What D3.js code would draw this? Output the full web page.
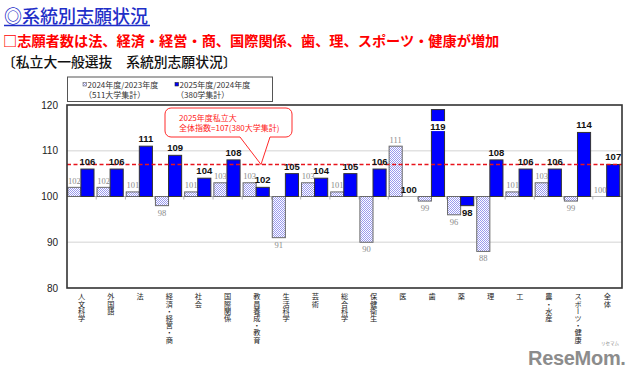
<!DOCTYPE html>
<html><head><meta charset="utf-8">
<script src="https://cdn.jsdelivr.net/npm/d3@7"></script>
<style>
html,body{margin:0;padding:0;background:#fff;}
svg{display:block;}
</style></head>
<body>
<svg id="chart" width="640" height="380"></svg>
<script>
const categories = ["人文科学","外国語","法","経済・経営・商","社会","国際関係","教員養成・教育","生活科学","芸術","総合科学","保健衛生","医","歯","薬","理","工","農・水産","スポーツ・健康","全体"];
const series2024 = [102,102,101,98,101,103,103,91,103,101,90,111,99,96,88,101,103,99,100];
const series2025 = [106,106,111,109,104,108,102,105,104,105,106,100,119,98,108,106,106,114,107];
const yTicks = [80,90,100,110,120];
const overallIndex = 107;
const baseValue = 100;
const seriesNames = ["2024年度/2023年度","2025年度/2024年度"];
const seriesNotes = ["（511大学集計）","（380学集計）"];
const titleText = "◎系統別志願状況";
const subtitleText = "□志願者数は法、経済・経営・商、国際関係、歯、理、スポーツ・健康が増加";
const captionText = "〔私立大一般選抜　系統別志願状況〕";
const calloutLines = ["2025年度私立大","全体指数=107(380大学集計)"];

const JP = "'Noto Sans CJK JP','Noto Sans',sans-serif";
const svg = d3.select("#chart");

// pattern for 2024 bars
const defs = svg.append("defs");
const pat = defs.append("pattern").attr("id","dots").attr("patternUnits","userSpaceOnUse")
  .attr("width",2).attr("height",2);
pat.append("rect").attr("width",2).attr("height",2).attr("fill","#ffffff");
pat.append("rect").attr("x",0).attr("y",0).attr("width",1).attr("height",1).attr("fill","#9a9aee");
pat.append("rect").attr("x",1).attr("y",1).attr("width",1).attr("height",1).attr("fill","#9a9aee");

// titles
svg.append("text").attr("x",4).attr("y",23).attr("font-family",JP).attr("font-size",18)
  .attr("font-weight",500).attr("fill","#1f2fc8").text(titleText);
svg.append("line").attr("x1",4).attr("x2",150).attr("y1",25.5).attr("y2",25.5)
  .attr("stroke","#1f2fc8").attr("stroke-width",1.3);
svg.append("text").attr("x",3).attr("y",46).attr("font-family",JP).attr("font-size",14.2)
  .attr("font-weight",700).attr("fill","#ff0000").text(subtitleText);
svg.append("text").attr("x",2).attr("y",67).attr("font-family",JP).attr("font-size",13.8)
  .attr("font-weight",500).attr("fill","#111").text(captionText);

// legend
const lg = svg.append("g");
lg.append("rect").attr("x",67.5).attr("y",77).attr("width",205).attr("height",24.5)
  .attr("fill","#fff").attr("stroke","#555").attr("stroke-width",1);
const legX = [83, 175];
[0,1].forEach(i=>{
  lg.append("rect").attr("x",legX[i]).attr("y",82.5).attr("width",3.5).attr("height",3.5)
    .attr("fill", i===0 ? "url(#dots)" : "#0000ff").attr("stroke", i===0?"#666":"#222").attr("stroke-width",0.6);
  lg.append("text").attr("x",legX[i]+4.5).attr("y",88).attr("font-family",JP).attr("font-size",8)
    .attr("fill","#333").text(seriesNames[i]);
  lg.append("text").attr("x",legX[i]+1).attr("y",97.5).attr("font-family",JP).attr("font-size",8)
    .attr("fill","#333").text(seriesNotes[i]);
});

// scales
const plot = {left:67, right:622, top:105, bottom:288};
const x = d3.scaleBand().domain(categories).range([plot.left, plot.right]).padding(0);
const xs = d3.scaleBand().domain(["2024","2025"]).range([0.8, x.bandwidth()-2.2]).padding(0);
const y = d3.scaleLinear().domain([80,120]).range([plot.bottom, plot.top]);

// gridlines
svg.append("g").selectAll("line").data(yTicks.filter(t=>t!==80 && t!==120 && t!==baseValue)).join("line")
  .attr("x1",plot.left).attr("x2",plot.right).attr("y1",d=>y(d)).attr("y2",d=>y(d))
  .attr("stroke","#e2e2e2").attr("stroke-width",1.5);

// baseline and ticks
svg.append("line").attr("x1",plot.left).attr("x2",plot.right).attr("y1",y(baseValue)).attr("y2",y(baseValue))
  .attr("stroke","#b5b5b5").attr("stroke-width",1.2);
svg.append("g").selectAll("line").data(categories.slice(1)).join("line")
  .attr("x1",d=>x(d)).attr("x2",d=>x(d)).attr("y1",y(baseValue)).attr("y2",y(baseValue)+3)
  .attr("stroke","#b5b5b5").attr("stroke-width",1);

// y axis labels
const yAxis = d3.axisLeft(y).tickValues(yTicks).tickSize(0).tickPadding(9);
const ya = svg.append("g").attr("transform",`translate(${plot.left},0)`).call(yAxis);
ya.select(".domain").remove();
ya.selectAll("text").attr("font-family","'Liberation Sans',Arial,sans-serif").attr("font-size",10).attr("fill","#222");

// bars 2024
svg.append("g").selectAll("rect").data(categories).join("rect")
  .attr("x",(d)=>x(d)+xs("2024"))
  .attr("width",xs.bandwidth())
  .attr("y",(d,i)=>y(Math.max(series2024[i],baseValue)))
  .attr("height",(d,i)=>Math.abs(y(series2024[i])-y(baseValue)))
  .attr("fill","url(#dots)").attr("stroke","#6a6a6a").attr("stroke-width",1);
// bars 2025
svg.append("g").selectAll("rect").data(categories).join("rect")
  .attr("x",(d)=>x(d)+xs("2025"))
  .attr("width",xs.bandwidth())
  .attr("y",(d,i)=>y(Math.max(series2025[i],baseValue)))
  .attr("height",(d,i)=>Math.abs(y(series2025[i])-y(baseValue)))
  .attr("fill","#0000ff").attr("stroke","#333").attr("stroke-width",1);

// reference dashed line
svg.append("line").attr("x1",plot.left).attr("x2",plot.right).attr("y1",y(overallIndex)).attr("y2",y(overallIndex))
  .attr("stroke","#e8141c").attr("stroke-width",1.3).attr("stroke-dasharray","4,2.5");

// labels 2024
svg.append("g").selectAll("text").data(categories).join("text")
  .attr("x",d=>x(d)+xs("2024")+xs.bandwidth()/2)
  .attr("y",(d,i)=> series2024[i]>=baseValue ? y(series2024[i])-3.5 : y(series2024[i])+10)
  .attr("text-anchor","middle").attr("font-family","'Liberation Serif','DejaVu Serif',serif")
  .attr("font-size",8.5).attr("fill","#8a8a8a").text((d,i)=>series2024[i]);

// labels 2025
const lab = svg.append("g");
categories.forEach((c,i)=>{
  const v = series2025[i];
  const cx = x(c)+xs("2025")+xs.bandwidth()/2;
  let ty = v>=baseValue ? y(v)-4 : y(v)+10.5;
  let inside = false;
  if (v>=baseValue && ty-8 < plot.top) { ty = y(v)+20; inside = true; }
  if (inside) {
    lab.append("rect").attr("x",cx-8).attr("y",ty-8.5).attr("width",16).attr("height",10).attr("fill","#fff");
  }
  lab.append("text").attr("x",cx).attr("y",ty).attr("text-anchor","middle")
    .attr("font-family","'Liberation Sans',Arial,sans-serif").attr("font-weight",700)
    .attr("font-size",9.5).attr("fill","#111").text(v);
});

// plot border
svg.append("rect").attr("x",plot.left).attr("y",plot.top).attr("width",plot.right-plot.left)
  .attr("height",plot.bottom-plot.top).attr("fill","none").attr("stroke","#333").attr("stroke-width",1.6);

// callout
const tipX = 261, tipY = y(overallIndex);
const cb = {x:165,y:108,w:127,h:29,r:6};
const path = d3.path();
path.moveTo(cb.x+cb.r, cb.y);
path.lineTo(cb.x+cb.w-cb.r, cb.y);
path.arcTo(cb.x+cb.w, cb.y, cb.x+cb.w, cb.y+cb.r, cb.r);
path.lineTo(cb.x+cb.w, cb.y+cb.h-cb.r);
path.arcTo(cb.x+cb.w, cb.y+cb.h, cb.x+cb.w-cb.r, cb.y+cb.h, cb.r);
path.lineTo(270, cb.y+cb.h);
path.lineTo(tipX, tipY);
path.lineTo(240, cb.y+cb.h);
path.lineTo(cb.x+cb.r, cb.y+cb.h);
path.arcTo(cb.x, cb.y+cb.h, cb.x, cb.y+cb.h-cb.r, cb.r);
path.lineTo(cb.x, cb.y+cb.r);
path.arcTo(cb.x, cb.y, cb.x+cb.r, cb.y, cb.r);
path.closePath();
svg.append("path").attr("d",path.toString()).attr("fill","#fff").attr("stroke","#ff2a2a").attr("stroke-width",1);
calloutLines.forEach((t,i)=>{
  svg.append("text").attr("x",179).attr("y",121+i*9.5).attr("font-family",JP).attr("font-size",8)
    .attr("fill","#ff2020").text(t);
});

// x labels (vertical)
svg.append("g").selectAll("text").data(categories).join("text")
  .attr("x",d=>x(d)+x.bandwidth()/2)
  .attr("y",293)
  .attr("font-family",JP).attr("font-size",7.2).attr("fill","#222")
  .style("writing-mode","vertical-rl").style("text-orientation","mixed")
  .text(d=>d);

// watermark
svg.append("text").attr("x",528).attr("y",365).attr("font-family","'Liberation Sans',Arial,sans-serif")
  .attr("font-weight",700).attr("font-size",20).attr("fill","#8c8c8c").attr("letter-spacing",-0.3).text("ReseMom.");
svg.append("text").attr("x",601).attr("y",344.5).attr("font-family",JP).attr("font-size",4.5)
  .attr("fill","#8c8c8c").text("リセマム");
</script>
</body></html>
